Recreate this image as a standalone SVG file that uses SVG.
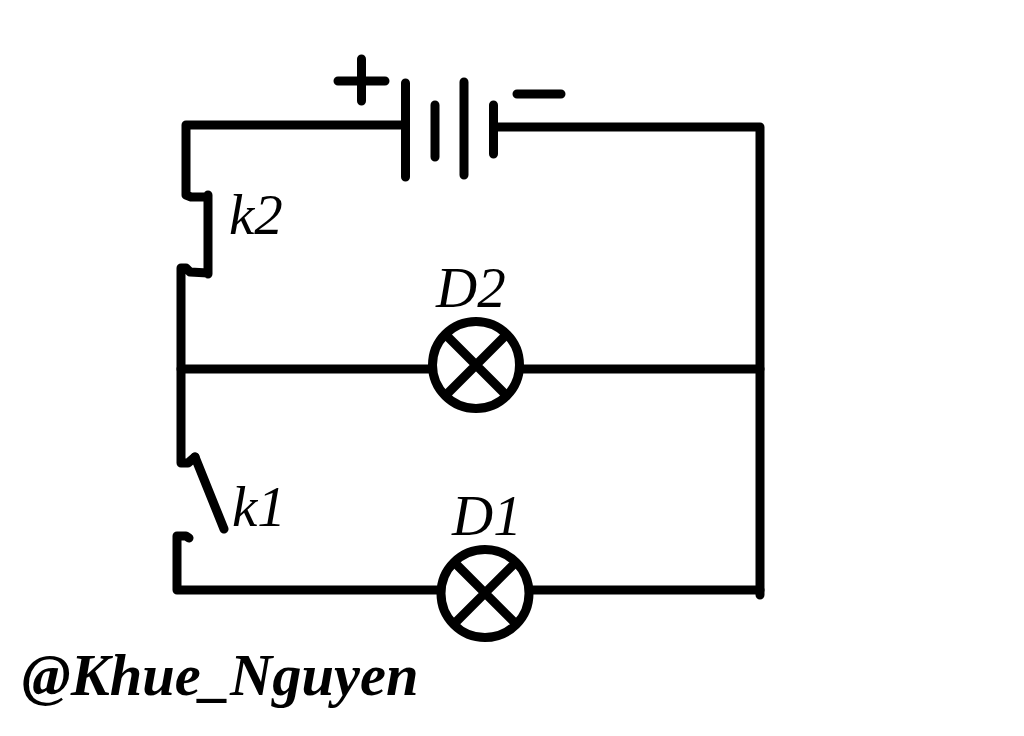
<svg xmlns="http://www.w3.org/2000/svg" width="1024" height="736" viewBox="0 0 1024 736">
<style>
.w{fill:none;stroke:#000;stroke-width:9;stroke-linecap:round;stroke-linejoin:round}
.l{font-family:"Liberation Serif",serif;font-style:italic;font-size:57px;fill:#000}
</style>
<rect width="1024" height="736" fill="#fff"/>
<g id="connectors">
<path class="w" d="M402 125H186V195L191 197H208M208 195V274M208 273L190 272L186 268H181V463H188L195 457"/>
<path class="w" d="M497 127H760V595"/>
<path class="w" d="M181 369H430M521 369H760"/>
<path class="w" d="M189 538L186 536H177V590H438M532 590H760"/>
</g>
<g id="battery">
<path class="w" d="M405.500 83V177M435 105V157M464 82V175M493.500 105V154"/>
<path class="w" d="M338 81H385M361.500 59V101M517 94H561"/>
</g>
<g id="k2"><text class="l" x="229" y="234">k2</text></g>
<g id="k1"><path class="w" d="M195 457L224 529"/><text class="l" x="232" y="526">k1</text></g>
<g id="D2"><circle class="w" cx="476" cy="365" r="43.500"/><path class="w" d="M446 335L506 395M506 335L446 395"/><text class="l" x="436" y="307">D2</text></g>
<g id="D1"><circle class="w" cx="485" cy="593.500" r="44"/><path class="w" d="M455 563L515 623M515 563L455 623"/><text class="l" x="452" y="535">D1</text></g>
<g id="credit"><text x="22" y="695" font-family="Liberation Serif, serif" font-style="italic" font-weight="bold" font-size="58.500px">@Khue_Nguyen</text></g>
</svg>
